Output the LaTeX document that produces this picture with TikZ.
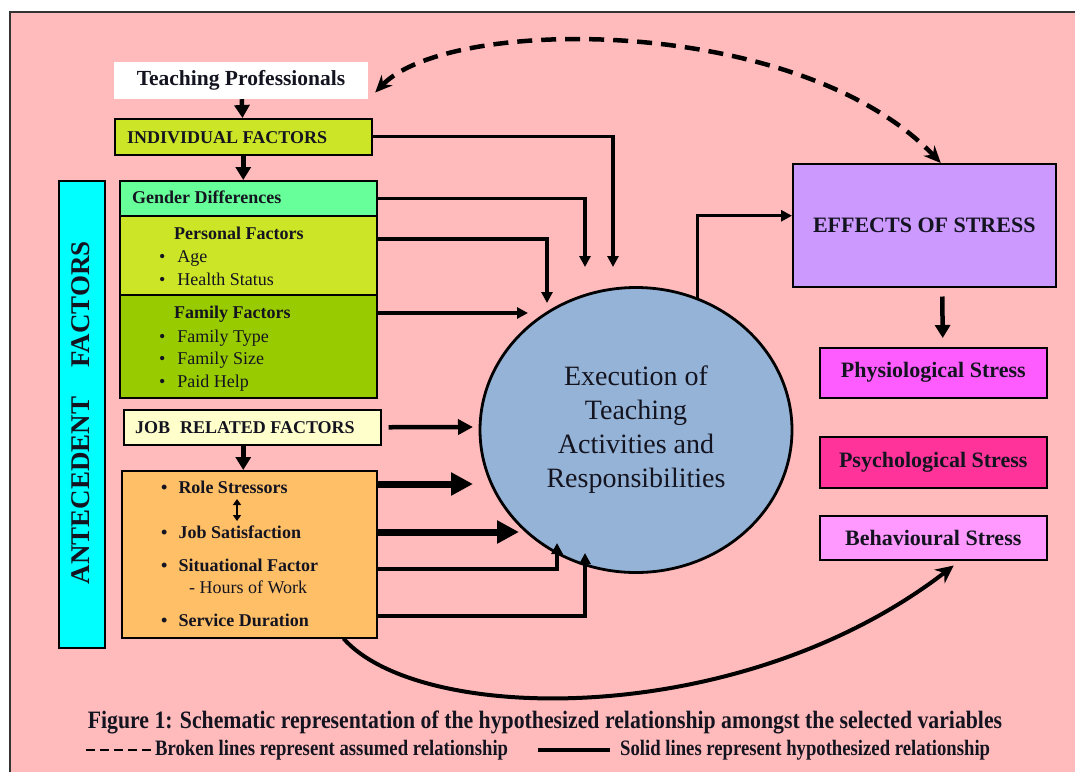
\documentclass[tikz,border=0pt]{standalone}
\usepackage{fontspec}
\setmainfont{Liberation Serif}
\newfontfamily\narrowfont[FakeStretch=0.87]{Liberation Serif}
\newfontfamily\legendfont[FakeStretch=0.85]{Liberation Serif}
\usetikzlibrary{arrows.meta}
\usetikzlibrary{shapes.geometric}
\definecolor{bgpink}{HTML}{FFBBBB}
\definecolor{indivgreen}{HTML}{CCE526}
\definecolor{mintgreen}{HTML}{66FF99}
\definecolor{famgreen}{HTML}{99CC00}
\definecolor{paleyellow}{HTML}{FFFFCC}
\definecolor{joborange}{HTML}{FFBF66}
\definecolor{antecyan}{HTML}{00FFFF}
\definecolor{execblue}{HTML}{95B3D7}
\definecolor{effviolet}{HTML}{CC99FF}
\definecolor{physmag}{HTML}{FF5CFF}
\definecolor{psychpink}{HTML}{FF3399}
\definecolor{behavpink}{HTML}{FF99FF}
\definecolor{textdark}{HTML}{141420}
\tikzset{
  cbox/.style= {draw, line width=1.5pt, inner sep=0, anchor=north west, text=textdark},
  lbl/.style= {inner sep=0, anchor=base west, text=textdark, font=\fontsize{18}{20}\selectfont},
  blbl/.style= {lbl, font=\fontsize{18}{20}\selectfont\bfseries},
  slbl/.style= {font=\fontsize{22}{24}\selectfont\bfseries},
  conn/.style= {line width=3.2pt, -{Triangle[length=11pt,width=11pt]}},
  downconn/.style= {line width=4.5pt, -{Triangle[length=13pt,width=15pt]}},
  midconn/.style= {line width=4.5pt, -{Triangle[length=15pt,width=15pt]}},
  fatconn/.style= {line width=7pt, -{Triangle[length=22pt,width=22pt]}},
  dblconn/.style= {line width=1.8pt, {Triangle[length=6pt,width=8pt]}-{Triangle[length=6pt,width=8pt]}},
  dashconn/.style= {line width=4.5pt, dash pattern=on 15pt off 9pt, {Stealth[length=17pt,width=15pt]}-{Stealth[length=17pt,width=15pt]}},
  curveconn/.style= {line width=4pt, -{Stealth[length=18pt,width=17pt]}},
  legtxt/.style= {inner sep=0, anchor=west, text=textdark, font=\legendfont\fontsize{22}{24}\selectfont\bfseries},
}

\begin{document}
\begin{tikzpicture}[x=1pt, y=-1pt]
  \useasboundingbox (0,0) rectangle (1075,772);
  \fill[bgpink] (10,12) rectangle (1075,772);
  \draw[line width=1.5pt, black!80] (10,772) -- (10,12) -- (1075,12);

  \node[fill=white, minimum width=254pt, minimum height=37pt, inner sep=0, text=textdark,
        font=\fontsize{21.5}{24}\selectfont\bfseries] (teach) at (241,80.5) {Teaching Professionals};

  \node[cbox, fill=indivgreen, minimum width=257pt, minimum height=36pt] (indiv) at (114,118) {};
  \node[blbl] (indivtxt) at (127,143) {INDIVIDUAL FACTORS};

  \node[cbox, fill=antecyan, minimum width=46pt, minimum height=467pt] (ante) at (58,180) {};
  \node[rotate=90, text=textdark, font=\fontsize{27}{30}\selectfont\bfseries] (antetxt) at (81,412.5) {ANTECEDENT\hspace{29pt}FACTORS};

  \node[cbox, fill=mintgreen, minimum width=257pt, minimum height=35pt] (gender) at (119,180) {};
  \node[blbl] (gendertxt) at (132,203) {Gender Differences};

  \node[cbox, fill=indivgreen, minimum width=257pt, minimum height=79pt] (pers) at (119,215) {};
  \node[blbl] (perstitle) at (174,239) {Personal Factors};
  \node[lbl] (age) at (159,262) {\textbullet\hspace{12pt}Age};
  \node[lbl] (health) at (159,285) {\textbullet\hspace{12pt}Health Status};

  \node[cbox, fill=famgreen, minimum width=257pt, minimum height=103pt] (fam) at (119,294) {};
  \node[blbl] (famtitle) at (174,318) {Family Factors};
  \node[lbl] (famtype) at (159,342) {\textbullet\hspace{12pt}Family Type};
  \node[lbl] (famsize) at (159,364) {\textbullet\hspace{12pt}Family Size};
  \node[lbl] (paidhelp) at (159,387) {\textbullet\hspace{12pt}Paid Help};

  \node[cbox, fill=paleyellow, minimum width=257pt, minimum height=35pt] (jobrel) at (123,409) {};
  \node[blbl] (jobreltxt) at (135,433) {JOB\hspace{10pt}RELATED FACTORS};

  \node[cbox, fill=joborange, minimum width=255pt, minimum height=167pt] (jobbox) at (121,470) {};
  \node[blbl] (role) at (161,493) {\textbullet\hspace{11pt}Role Stressors};
  \node[blbl] (jobsat) at (161,538) {\textbullet\hspace{11pt}Job Satisfaction};
  \node[blbl] (situ) at (161,571) {\textbullet\hspace{11pt}Situational Factor};
  \node[lbl] (hours) at (189,593) {- Hours of Work};
  \node[blbl] (service) at (161,626) {\textbullet\hspace{11pt}Service Duration};

  \node[ellipse, draw, line width=2.8pt, fill=execblue, minimum width=312pt, minimum height=285pt,
        inner sep=0, align=center, text=textdark, font=\fontsize{28}{34}\selectfont] (exec) at (636,430)
        {Execution of\\Teaching\\Activities and\\Responsibilities};

  \node[cbox, slbl, fill=effviolet, minimum width=263pt, minimum height=123pt] (effects) at (792,163) {EFFECTS OF STRESS};
  \node[cbox, slbl, fill=physmag, minimum width=227pt, minimum height=50pt] (physio) at (819,347) {Physiological Stress};
  \node[cbox, slbl, fill=psychpink, minimum width=227pt, minimum height=51pt] (psycho) at (819,436) {Psychological Stress};
  \node[cbox, slbl, fill=behavpink, minimum width=227pt, minimum height=44pt] (behav) at (819,515) {Behavioural Stress};

  \coordinate (e1) at (613,267);
  \coordinate (e2) at (585,267);
  \coordinate (e3) at (547,303);
  \coordinate (e4) at (528,313);
  \coordinate (e5) at (473,427);
  \coordinate (e6) at (473,484);
  \coordinate (e7) at (519,532);
  \coordinate (e8) at (557,543);
  \coordinate (e9) at (585,553);
  \coordinate (rs) at (237,499);
  \coordinate (js) at (237,521);

  \draw[downconn] (teach) -- (indiv);
  \draw[downconn] (indiv) -- (indiv |- gender.north);
  \draw[downconn] (jobrel.south -| indiv) -- (jobbox.north -| indiv);
  \draw[dblconn] (rs) -- (js);

  \draw[conn] (indiv.east) -| (e1);
  \draw[conn] (gender.east) -| (e2);
  \draw[conn] ([yshift=-24pt]pers.north east) -| (e3);
  \draw[conn] ([yshift=-19pt]fam.north east) -- (e4);
  \draw[midconn] ([xshift=7pt]jobrel.east) -- (e5);
  \draw[fatconn] ([yshift=-14pt]jobbox.north east) -- (e6);
  \draw[fatconn] ([yshift=-62pt]jobbox.north east) -- (e7);
  \draw[conn] ([yshift=-99pt]jobbox.north east) -| (e8);
  \draw[conn] ([yshift=-146pt]jobbox.north east) -| (e9);

  \draw[conn] (exec.65) |- ([yshift=9.5pt]effects.west);
  \draw[downconn] ([xshift=18pt,yshift=-9pt]effects.south) -- ([xshift=9.5pt,yshift=9pt]physio.north);

  \draw[dashconn] ([shift={(7pt,-12pt)}]teach.east) .. controls (450,15) and (800,15) .. ([xshift=16.5pt]effects.north);
  \draw[curveconn] ([xshift=-34pt]jobbox.south east) .. controls (420,725) and (740,730) .. ([shift={(20.5pt,-5pt)}]behav.south);

  \node[text=textdark, inner sep=0, font=\narrowfont\fontsize{25}{28}\selectfont\bfseries] (caption) at (545,722)
        {Figure 1: Schematic representation of the hypothesized relationship amongst the selected variables};
  \node[legtxt] (brokentxt) at (155,750) {Broken lines represent assumed relationship};
  \node[legtxt] (solidtxt) at (620,750) {Solid lines represent hypothesized relationship};
  \draw[line width=2.5pt, dash pattern=on 9pt off 5pt] (86,750) -- ([xshift=-3pt]brokentxt.west);
  \draw[line width=4pt] (538,750) -- ([xshift=-10pt]solidtxt.west);
\end{tikzpicture}
\end{document}
